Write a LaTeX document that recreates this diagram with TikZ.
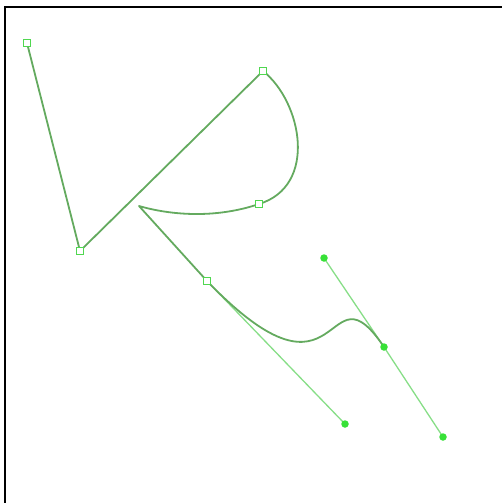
\documentclass[tikz,border=0pt]{standalone}
\definecolor{pathgreen}{RGB}{100,170,95}
\definecolor{handlegreen}{RGB}{135,222,135}
\definecolor{markgreen}{RGB}{80,215,80}
\definecolor{dotgreen}{RGB}{55,225,55}
\tikzset{
  anchorbox/.style={draw=markgreen, fill=white, line width=1pt, minimum size=7pt, inner sep=0pt},
  handledot/.style={circle, fill=dotgreen, minimum size=7.5pt, inner sep=0pt},
  handleline/.style={handlegreen, line width=1.3pt},
  mainpath/.style={pathgreen, line width=1.8pt, line join=round}
}
\begin{document}
\begin{tikzpicture}[x=1pt, y=-1pt]
					\useasboundingbox (0,0) rectangle (502,503);
					\draw[line width=1.5pt] (5,503) -- (5,7) -- (502,7);
					% anchors
					\coordinate (a) at (27,43);
					\coordinate (b) at (80,251);
					\coordinate (c) at (263,71);
					\coordinate (d) at (259,204);
					\coordinate (e) at (139,206);
					\coordinate (f) at (207,281);
					\coordinate (g) at (384,347);
					% handles
					\coordinate (h1) at (345,424);
					\coordinate (h2) at (324,258);
					\coordinate (h3) at (443,437);
					\draw[handleline] (f) -- (h1);
					\draw[handleline] (h2) -- (g) -- (h3);
					\draw[mainpath] (a) -- (b) -- (c)
						.. controls (302,102) and (318,186) .. (d)
						.. controls (215,219) and (170,215) .. (e) -- (f)
						.. controls (h1) and (h2) .. (g);
					\foreach \p in {a,b,c,d,f}
						\node[anchorbox] (box-\p) at (\p) {};
					\foreach \p in {h1,h2,g,h3}
						\node[handledot] (dot-\p) at (\p) {};
				\end{tikzpicture}
\end{document}
